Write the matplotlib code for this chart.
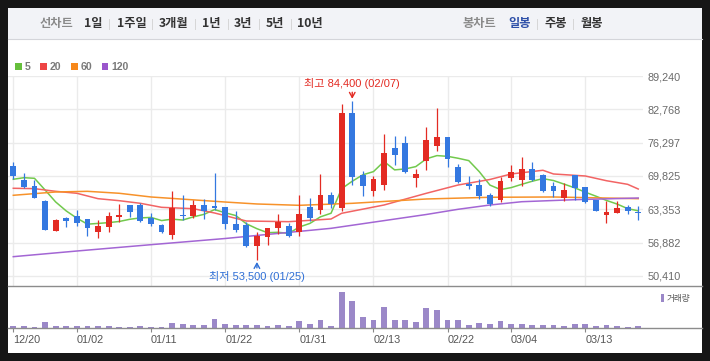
import matplotlib.pyplot as plt
import numpy as np
import pandas as pd
from matplotlib.patches import Rectangle
from matplotlib.lines import Line2D

plt.rcParams['font.family'] = ['Liberation Sans', 'Noto Sans CJK KR']

# daily candles 2023-12-20 .. 2024-03-20 (60 trading days)
opens = [71750, 69030, 67860, 64950, 59180, 61650, 62030, 61450, 58980, 59950,
         61900, 64170, 64170, 61650, 60290, 58400, 62230, 62030, 64170, 63980,
         63780, 60480, 60290, 56260, 58010, 59760, 60090, 58980, 63780, 63200,
         66120, 63530, 82050, 70000, 66950, 68120, 75310, 76220, 69480, 72780,
         75700, 77390, 71560, 68250, 68060, 66120, 65200, 69480, 69090, 71170,
         70000, 67860, 65590, 70000, 67670, 65200, 62290, 62680, 63840, 62810]
highs = [72470, 70390, 69030, 65140, 61450, 61840, 63200, 61450, 61260, 62810,
         64370, 64170, 64500, 62620, 60540, 66890, 66120, 65140, 65340, 70390,
         63780, 63000, 60930, 58980, 59700, 62420, 60620, 66120, 65590, 70200,
         66700, 83800, 84400, 70780, 69810, 77970, 77580, 77580, 71170, 79330,
         83020, 77390, 72140, 69810, 69220, 66500, 69670, 71950, 73500, 72530,
         70200, 68640, 68450, 70000, 67670, 65200, 65010, 65010, 64230, 64040]
lows = [69170, 67420, 65590, 59370, 59180, 59950, 60150, 58200, 57820, 58980,
        60930, 61900, 60930, 60150, 58790, 57620, 61260, 61700, 61450, 63200,
        59570, 58980, 56070, 53500, 56400, 58480, 58010, 58200, 61060, 62420,
        63650, 63060, 68000, 65980, 65980, 67150, 72000, 70450, 67730, 71030,
        74720, 71610, 68390, 67340, 65400, 63980, 64810, 68840, 67920, 68840,
        66760, 65780, 65010, 65200, 64620, 63060, 60730, 62680, 62480, 61320]
closes = [69870, 67730, 65590, 59370, 61260, 61120, 60730, 59760, 60090, 62030,
          62230, 62870, 61120, 60540, 58980, 63590, 62030, 64170, 63000, 63590,
          60540, 59310, 56200, 58200, 59700, 60930, 58200, 62420, 61700, 66120,
          64420, 82050, 69670, 67920, 69220, 74280, 73890, 70580, 70200, 76800,
          77390, 73170, 68700, 67920, 65980, 64420, 68840, 70580, 71110, 69030,
          66950, 66950, 67090, 67530, 64810, 63060, 62810, 63590, 63060, 62680]
volume = [23, 23, 13, 63, 23, 23, 23, 23, 23, 23, 13, 13, 23, 13, 13, 53, 43, 33, 33, 93,
          43, 33, 33, 33, 23, 33, 23, 73, 43, 83, 23, 363, 273, 113, 83, 213, 83, 83, 63, 203,
          183, 83, 83, 33, 53, 43, 73, 43, 43, 33, 33, 33, 23, 43, 43, 23, 33, 23, 13, 23]

# first four 5-day averages depend on earlier closes
ma5_head = [69170, 69480, 69360, 67090]
ma20_idx = [0, 2, 4, 6, 8, 10, 12, 14, 17, 19, 22, 26, 30, 31, 35, 39, 42, 45, 47, 50, 51, 54, 56, 58, 59]
ma20_val = [67420, 67350, 66830, 66450, 65400, 65010, 64500, 63720, 63450, 62620, 61060, 60930,
            61450, 62560, 64170, 66450, 68060, 69130, 70200, 70920, 70200, 69810, 68890, 68190, 67280]
ma60_idx = [0, 4, 7, 10, 13, 20, 23, 27, 32, 39, 45, 51, 59]
ma60_val = [66060, 66700, 66830, 66450, 65730, 64750, 64370, 64110, 64500, 65340, 65670, 65730, 65400]
ma120_idx = [0, 6, 13, 20, 30, 39, 42, 45, 48, 53, 59]
ma120_val = [54130, 55230, 56460, 57660, 59640, 62330, 63340, 64170, 64810, 65200, 65530]

tick_idx = [0, 6, 13, 20, 27, 34, 41, 47, 54]
tick_labels = ['12/20', '01/02', '01/11', '01/22', '01/31', '02/13', '02/22', '03/04', '03/13']
y_ticks = [50410, 56882, 63353, 69825, 76297, 82768, 89240]

RED = '#e32b23'
BLUE = '#3478e0'
W, H = 710, 361


def fx(x):
    return x / W


def fy(y):
    return 1 - y / H


fig = plt.figure(figsize=(7.1, 3.61), dpi=100, facecolor='#161616')
fig.patches.append(Rectangle((fx(8), fy(353)), 694 / W, 345 / H, transform=fig.transFigure,
                             facecolor='white', edgecolor='none', zorder=-3))
fig.patches.append(Rectangle((fx(8), fy(39)), 694 / W, 31 / H, transform=fig.transFigure,
                             facecolor='#f2f3f7', edgecolor='none', zorder=-2))
fig.lines.append(Line2D([fx(8), fx(702)], [fy(39), fy(39)], transform=fig.transFigure,
                        color='#d4d5da', lw=0.8))

# header
head_left = [('선차트', 56.7, '#8a8a8a'), ('1일', 93.3, '#333333'), ('1주일', 131.5, '#333333'),
             ('3개월', 174, '#333333'), ('1년', 211.7, '#333333'), ('3년', 242.8, '#333333'),
             ('5년', 275, '#333333'), ('10년', 310, '#333333'),
             ('봉차트', 479.7, '#8a8a8a'), ('일봉', 519.7, '#2d4fa8'), ('주봉', 555.5, '#333333'),
             ('월봉', 591.7, '#333333')]
for s, x, c in head_left:
    fig.text(fx(x), fy(24), s, ha='center', va='center', fontsize=8.8, fontweight='bold',
             color=c, family=['Noto Sans CJK KR'])
for x in [109.3, 152.3, 195, 227.7, 259.3, 291, 537.3, 573.3]:
    fig.lines.append(Line2D([fx(x), fx(x)], [fy(19), fy(29)], transform=fig.transFigure,
                            color='#d6d6d6', lw=0.7))

# legend
for c, x, lab in [('#66bf3c', 15, '5'), ('#ee4444', 40, '20'), ('#f7881a', 71, '60'),
                  ('#9a56cc', 101.7, '120')]:
    fig.patches.append(Rectangle((fx(x), fy(70)), 6.7 / W, 6.7 / H, transform=fig.transFigure,
                                 facecolor=c, edgecolor='none'))
    fig.text(fx(x + 9.3), fy(66.8), lab, ha='left', va='center', fontsize=7.6, fontweight='bold',
             color='#7a7a7a')

# price panel
ax = fig.add_axes([fx(8), fy(285.7), 635 / W, 209.7 / H])
ax.set_facecolor('none')
x = np.arange(len(closes))
o = np.array(opens)
c = np.array(closes)
cols = np.where(c >= o, RED, BLUE)
ax.vlines(x, lows, highs, colors=cols, lw=0.9, zorder=3)
ax.bar(x, np.maximum(np.abs(c - o), 200), bottom=np.minimum(o, c), width=0.55, color=cols,
       lw=0, zorder=3)

ma5 = pd.Series(closes).rolling(5).mean().to_numpy()
ma5[:4] = ma5_head
ax.plot(x, ma5, color='#72c94d', lw=1.1, zorder=2)
ax.plot(ma20_idx, ma20_val, color='#f26464', lw=1.1, zorder=2)
ax.plot(ma60_idx, ma60_val, color='#f7922a', lw=1.1, zorder=2)
ax.plot(ma120_idx, ma120_val, color='#a366d4', lw=1.1, zorder=2)

ax.set_xlim(-0.5, 59.45)
ax.set_ylim(48489, 89240)
ax.set_xticks(tick_idx)
ax.set_yticks(y_ticks)
ax.set_yticklabels([f'{v:,}' for v in y_ticks])
ax.yaxis.tick_right()
ax.tick_params(axis='y', length=0, pad=3.6, labelsize=7.8, labelcolor='#6a6a6a')
ax.tick_params(axis='x', length=0, labelbottom=False)
ax.grid(color='#ebebeb', lw=1.0)
ax.set_axisbelow(True)
for sp in ax.spines.values():
    sp.set_visible(False)

arrow = '->,head_length=0.45,head_width=0.25'
ax.annotate('최고 84,400 (02/07)', xy=(32, 84400), xytext=(0, 12.7), textcoords='offset points',
            ha='center', va='center', color=RED, fontsize=8, annotation_clip=False,
            arrowprops=dict(arrowstyle=arrow, color=RED, lw=1.0, shrinkA=0.5, shrinkB=1.5))
ax.annotate('최저 53,500 (01/25)', xy=(23, 53500), xytext=(0, -12.2), textcoords='offset points',
            ha='center', va='center', color='#2f6fd6', fontsize=8, annotation_clip=False,
            arrowprops=dict(arrowstyle=arrow, color='#2f6fd6', lw=1.0, shrinkA=0.5, shrinkB=1.5))

# volume panel
axv = fig.add_axes([fx(8), fy(328.3), 694 / W, 42.6 / H])
axv.set_facecolor('none')
axv.bar(x, volume, width=0.55, color='#9b88c8', lw=0)
axv.set_xlim(-0.5, -0.5 + 694 / 10.592)
axv.set_ylim(0, 426)
axv.set_yticks([])
axv.set_xticks(tick_idx)
axv.set_xticklabels(tick_labels)
plt.setp(axv.get_xticklabels(), ha='left')
axv.tick_params(axis='x', direction='out', length=3, width=0.8, color='#888888', pad=1.5,
                labelsize=7.8, labelcolor='#555555')
for side in ['left', 'right']:
    axv.spines[side].set_visible(False)
for side in ['top', 'bottom']:
    axv.spines[side].set_color('#8c8c8c')
    axv.spines[side].set_linewidth(1.0)

fig.patches.append(Rectangle((fx(661), fy(301.7)), 2.7 / W, 7.7 / H, transform=fig.transFigure,
                             facecolor='#9b88c8', edgecolor='none'))
fig.text(fx(666.7), fy(298), '거래량', ha='left', va='center', fontsize=6.2, color='#555555',
         family=['Noto Sans CJK KR'])

fig.savefig('out.png', dpi=100, facecolor=fig.get_facecolor())
